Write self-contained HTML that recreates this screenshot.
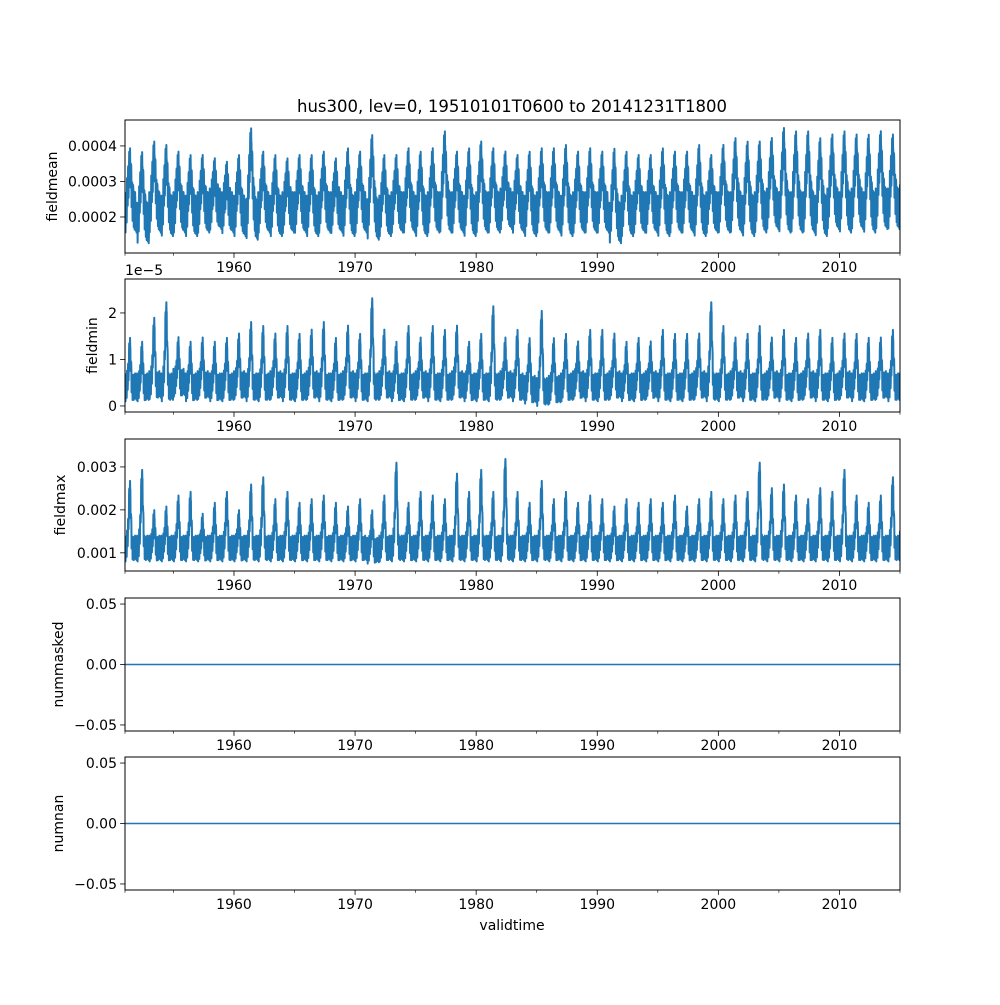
<!DOCTYPE html>
<html><head><meta charset="utf-8"><style>
body{margin:0;background:#fff}
text{font-family:"DejaVu Sans","Liberation Sans",sans-serif;fill:#000}
</style></head><body>
<svg id="chart" width="1000" height="1000" viewBox="0 0 1000 1000" xmlns="http://www.w3.org/2000/svg">
<rect width="1000" height="1000" fill="#fff"/>
<text x="512" y="112" font-size="16.5" text-anchor="middle">hus300, lev=0, 19510101T0600 to 20141231T1800</text>
<text x="512" y="930" font-size="14" text-anchor="middle">validtime</text>
</svg>
<script>
const years = [];
for (let y = 1951; y <= 2015; y++) years.push(y);
const meanPeak = [.00040,.00039,.00042,.00041,.00039,.00038,.00038,.00037,.00036,.00038,.00046,.00039,.00038,.00037,.00038,.00038,.00039,.00037,.00040,.00039,.00044,.00038,.00038,.00040,.00039,.00040,.00045,.00039,.00040,.00042,.00040,.00039,.00038,.00039,.00040,.00040,.00041,.00039,.00040,.00039,.00040,.00039,.00038,.00038,.00040,.00039,.00039,.00041,.00038,.00041,.00043,.00042,.00042,.00043,.00046,.00045,.00045,.00043,.00044,.00045,.00044,.00044,.00045,.00044,.00040];
const meanTrough = [.00015,.00012,.00015,.00014,.00015,.00014,.00015,.00016,.00015,.00014,.00013,.00015,.00014,.00015,.00015,.00014,.00015,.00015,.00014,.00015,.00013,.00014,.00015,.00015,.00014,.00015,.00015,.00015,.00014,.00015,.00015,.00016,.00015,.00014,.00015,.00015,.00014,.00015,.00015,.00015,.00012,.00014,.00015,.00015,.00014,.00015,.00015,.00014,.00015,.00015,.00015,.00014,.00015,.00016,.00015,.00015,.00015,.00014,.00016,.00015,.00016,.00015,.00016,.00016,.00017];
const minPeak = [1.6,1.5,2.1,2.5,1.6,1.5,1.6,1.5,1.6,1.7,2.0,1.9,1.7,1.9,1.7,1.8,2.0,1.6,1.9,1.7,2.6,1.8,1.5,1.9,1.6,1.9,1.8,1.9,1.5,1.7,2.4,1.6,1.8,1.6,2.3,1.6,1.7,1.5,1.8,1.8,1.7,1.5,1.6,1.5,1.8,1.7,1.7,1.7,2.5,1.9,1.6,1.7,1.9,1.6,1.8,1.6,1.7,1.8,1.6,1.7,1.7,1.6,1.6,1.8,1.7];
const minTrough = [0.1,0.1,0.15,0.1,0.2,0.1,0.15,0.1,0.1,0.15,0.1,0.1,0.15,0.1,0.1,0.15,0.1,0.1,0.15,0.1,0.1,0.15,0.1,0.1,0.15,0.1,0.1,0.15,0.1,0.1,0.1,0.15,0.1,0.05,0.0,0.05,0.1,0.15,0.1,0.1,0.15,0.1,0.1,0.15,0.1,0.1,0.1,0.15,0.1,0.1,0.15,0.1,0.1,0.15,0.1,0.1,0.15,0.1,0.1,0.15,0.1,0.1,0.15,0.1,0.1];
const maxPeak = [.0029,.0032,.0021,.0022,.0025,.0026,.0020,.0023,.0026,.0021,.0028,.0030,.0024,.0026,.0023,.0024,.0025,.0023,.0022,.0024,.0021,.0025,.0034,.0023,.0026,.0025,.0024,.0031,.0026,.0032,.0026,.0035,.0026,.0023,.0029,.0024,.0026,.0023,.0025,.0024,.0022,.0024,.0023,.0024,.0023,.0025,.0022,.0024,.0026,.0024,.0025,.0026,.0034,.0027,.0028,.0025,.0024,.0027,.0026,.0032,.0025,.0023,.0025,.0030,.0019];
const maxTrough = [.0008,.0008,.0008,.0008,.0008,.0008,.0008,.0008,.0008,.0008,.0008,.0008,.0008,.0008,.0008,.0008,.0008,.0008,.0008,.0008,.00075,.0008,.0008,.0008,.0008,.0008,.0008,.0008,.0008,.0008,.0008,.0008,.0008,.0008,.0008,.0008,.0008,.0008,.0008,.0008,.0008,.0008,.0008,.0008,.0008,.0008,.0008,.0008,.0008,.0008,.0008,.0008,.0008,.0008,.0008,.0008,.0008,.0008,.0008,.0008,.0008,.0008,.0008,.0008,.0009];
const numMasked = [0, 0];
const numNan = [0, 0];
const xTicks = [1960,1970,1980,1990,2000,2010];
const xMinor = [1951,1955,1965,1975,1985,1995,2005,2015];
const p1Ticks = [0.0002,0.0003,0.0004], p1Labels = ["0.0002","0.0003","0.0004"];
const p2Ticks = [0,1,2], p2Labels = ["0","1","2"];
const p3Ticks = [0.001,0.002,0.003], p3Labels = ["0.001","0.002","0.003"];
const p45Ticks = [-0.05,0,0.05], p45Labels = ["\u22120.05","0.00","0.05"];

// seasonal shape and jitter pattern (24 samples per year, 3 sub-samples each)
const wide = [0,.05,.12,.22,.35,.5,.65,.8,.92,1,.95,.85,.7,.55,.42,.3,.2,.12,.06,.02,0,0,0,0];
const narrow = [0,0,.02,.05,.1,.18,.3,.5,.75,1,.85,.6,.35,.18,.08,.03,0,0,0,0,0,0,0,0];
const jit = [1,-1,.6,-.8,.9,-.5,.7,-1,.4,-.7,1,-.6,.8,-.9,.5,-1,.9,-.4,.7,-.8,1,-.6,.5,-.9];
const sub = [1,-.9,.3];

const svg = document.getElementById('chart');
const NS = 'http://www.w3.org/2000/svg';
const L = 125, R = 900;
const xs = v => L + (v - 1951) / (2015 - 1951) * (R - L);
function mk(tag, at){const e=document.createElementNS(NS,tag);for(const k in at)e.setAttribute(k,at[k]);svg.appendChild(e);return e;}

function panel(idx, top, bot, ymin, ymax, ticks, labels, ylabel, ylx, lineFn, sw){
  const ys = v => bot - (v - ymin) / (ymax - ymin) * (bot - top);
  const cp = mk('clipPath', {id:'cp'+idx});
  
  
  const cr = document.createElementNS(NS,'rect');
  cr.setAttribute('x',L);cr.setAttribute('y',top);cr.setAttribute('width',R-L);cr.setAttribute('height',bot-top);
  cp.appendChild(cr);
  const d = lineFn(ys);
  const p = mk('path', {d:d, fill:'none', stroke:'#1f77b4', 'stroke-width':sw, 'clip-path':'url(#cp'+idx+')', 'stroke-linejoin':'round'});
  
  
  const fr = mk('rect', {x:L, y:top, width:R-L, height:bot-top, fill:'none', stroke:'#000', 'stroke-width':1});
  
  
  ticks.forEach((t,i)=>{
    const y = ys(t);
    const tl = mk('line', {x1:L-4.9, x2:L, y1:y, y2:y, stroke:'#000', 'stroke-width':0.8});
    
    
    const tx = mk('text', {x:L-8, y:y+5, 'font-size':14, 'text-anchor':'end'});
    tx.textContent = labels[i];
    
    
  });
  xTicks.forEach(t=>{
    const x = xs(t);
    const tl = mk('line', {x1:x, x2:x, y1:bot, y2:bot+4.9, stroke:'#000', 'stroke-width':0.8});
    
    
    const tx = mk('text', {x:x, y:bot+19, 'font-size':14, 'text-anchor':'middle'});
    tx.textContent = String(t);
    
    
  });
  xMinor.forEach(t=>{
    const x = xs(t);
    const tl = mk('line', {x1:x, x2:x, y1:bot, y2:bot+2.8, stroke:'#000', 'stroke-width':0.6});
    
    
  });
  const cy = (top+bot)/2;
  const yl = mk('text', {x:ylx, y:cy, 'font-size':14, 'text-anchor':'middle', transform:'rotate(-90 '+ylx+' '+cy+')'});
  yl.textContent = ylabel;
  
  
}

function seasonal(peak, trough, amp, shape){
  return ys => {
    let d = '';
    years.forEach((yr,i)=>{
      const lo = trough[i] + amp, hi = peak[i] - amp;
      for (let k=0;k<24;k++){
        for (let s=0;s<3;s++){
          const t = yr + (k*3+s)/72;
          const v = lo + shape[k]*(hi-lo) + jit[(k+s*7)%24]*sub[s]*amp;
          d += (d?'L':'M') + xs(t).toFixed(2) + ',' + ys(v).toFixed(2);
        }
      }
    });
    return d;
  };
}
function flat(vals){
  return ys => 'M'+xs(1951)+','+ys(vals[0])+'L'+xs(2015)+','+ys(vals[1]);
}

panel(1, 120, 253, 0.0000986, 0.000473, p1Ticks, p1Labels, 'fieldmean', 57, seasonal(meanPeak, meanTrough, 0.00006, wide), 2);
panel(2, 279, 412, -0.13, 2.73, p2Ticks, p2Labels, 'fieldmin', 97, seasonal(minPeak, minTrough, 0.3, narrow), 2);
panel(3, 439, 571, 0.000577, 0.00365, p3Ticks, p3Labels, 'fieldmax', 65, seasonal(maxPeak, maxTrough, 0.0003, narrow), 2);
panel(4, 598, 731, -0.055, 0.055, p45Ticks, p45Labels, 'nummasked', 63, flat(numMasked), 1.5);
panel(5, 757, 890, -0.055, 0.055, p45Ticks, p45Labels, 'numnan', 63, flat(numNan), 1.5);

const off = mk('text', {x:125, y:275, 'font-size':14});
off.textContent = '1e\u22125';


</script>
</body></html>
